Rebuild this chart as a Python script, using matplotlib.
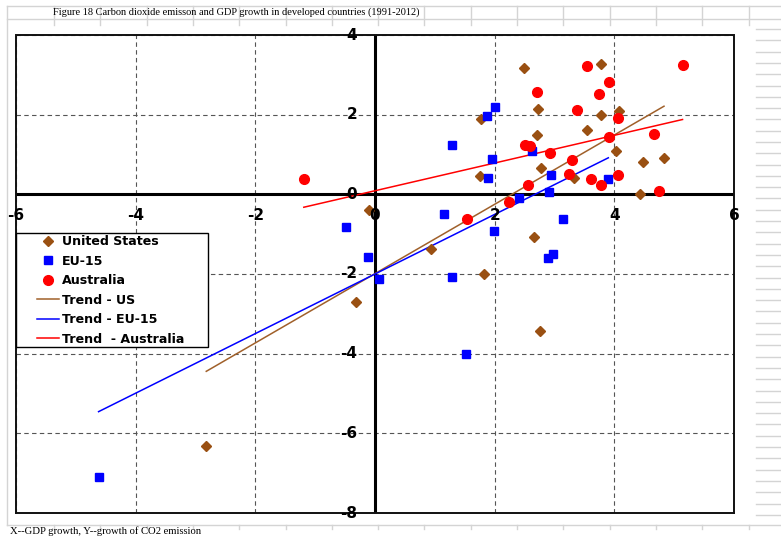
import matplotlib
matplotlib.use("Agg")
import matplotlib.pyplot as plt
import matplotlib.transforms as mtransforms
from matplotlib.lines import Line2D
from matplotlib.patches import Rectangle
import numpy as np

# data
us_x = [2.49, 3.78, 2.72, 1.77, 3.78, 4.07, 3.54, 2.71, 4.02, 4.48, 4.83,
        2.78, 1.76, 3.33, 4.43, 0.94, 2.66, 1.82, 2.75, -0.10, -0.31, -2.82]
us_y = [3.18, 3.26, 2.13, 1.90, 1.98, 2.08, 1.62, 1.48, 1.09, 0.80, 0.90,
        0.65, 0.45, 0.42, 0.02, -1.37, -1.07, -2.01, -3.42, -0.40, -2.71, -6.31]

eu_x = [2.00, 1.87, 1.29, 2.63, 1.96, 1.89, 2.94, 3.90, 2.41, 2.91,
        1.15, 3.14, 1.99, 2.97, 2.89, 1.29, -0.48, -0.12, 0.07, 1.52, -4.62]
eu_y = [2.19, 1.97, 1.25, 1.09, 0.88, 0.42, 0.49, 0.38, -0.08, 0.05,
        -0.49, -0.61, -0.93, -1.49, -1.61, -2.07, -0.82, -1.57, -2.13, -4.00, -7.10]

au_x = [3.54, 5.14, 3.91, 2.70, 3.75, 3.37, 4.06, 3.91, 4.67, 2.50, 2.59,
        2.92, 3.29, 3.25, 3.61, 3.78, 4.06, 2.56, 4.75, 2.24, 1.53, -1.19]
au_y = [3.22, 3.25, 2.81, 2.56, 2.52, 2.12, 1.92, 1.45, 1.51, 1.24, 1.22,
        1.03, 0.85, 0.52, 0.39, 0.24, 0.49, 0.24, 0.09, -0.18, -0.63, 0.38]

# trend lines (slope, intercept) as drawn in the chart
trend_us = (0.87, -1.99)
trend_eu = (0.748, -2.00)
trend_au = (0.348, 0.09)

x_ticks = [-6, -4, -2, 0, 2, 4, 6]
y_ticks = [-8, -6, -4, -2, 0, 2, 4]

title = "Figure 18 Carbon dioxide emisson and GDP growth in developed countries (1991-2012)"
note = "X--GDP growth, Y--growth of CO2 emission"

W, H = 781, 538
fig = plt.figure(figsize=(W / 100, H / 100), dpi=100)


def px(x0, y0, x1, y1, **kw):
    # spreadsheet cell lines, given in pixel coords from the top left
    fig.add_artist(Line2D([x0 / W, x1 / W], [1 - y0 / H, 1 - y1 / H],
                          transform=fig.transFigure, color="#d4d4d4", lw=1, **kw))


# spreadsheet background
px(7, 6, W, 6)
px(7, 19, W, 19)
px(7, 6, 7, 525)
px(7, 525, W, 525)
for xc in np.arange(54, 760, 46.3):
    px(xc, 6, xc, 25)
    px(xc, 525, xc, 529)
for yc in np.arange(29, 524, 11.3):
    px(756, yc, W, yc)

fig.text(53 / W, 1 - 12.5 / H, title, family="Liberation Serif", fontsize=7.5,
         va="center", ha="left")
fig.text(10 / W, 1 - 531.5 / H, note, family="Liberation Serif", fontsize=7.7,
         va="center", ha="left")

ax = fig.add_axes([16 / W, 1 - 513 / H, 718 / W, 478 / H])
ax.set_xlim(-6, 6)
ax.set_ylim(-8, 4)
ax.set_xticks(x_ticks)
ax.set_yticks(y_ticks)
ax.tick_params(length=0, labelbottom=False, labelleft=False)
ax.grid(True, color="#555555", lw=0.8, linestyle=(0, (4, 3)))
for s in ax.spines.values():
    s.set_linestyle((0, (2, 1)))
    s.set_linewidth(1.4)
    s.set_color("#111111")

ax.axhline(0, color="black", lw=2.2, zorder=2)
ax.axvline(0, color="black", lw=2.2, zorder=2)

brown = "#9a5012"
for (xs, (m, b), col) in [(us_x, trend_us, "#a0602a"),
                          (eu_x, trend_eu, "#0000ff"),
                          (au_x, trend_au, "#ff0000")]:
    xx = np.array([min(xs), max(xs)])
    ax.plot(xx, m * xx + b, color=col, lw=1.1, zorder=2.5)

ax.plot(us_x, us_y, ls="none", marker="D", ms=4.6, color=brown, zorder=3)
ax.plot(eu_x, eu_y, ls="none", marker="s", ms=6, color="#0000ff", zorder=3)
ax.plot(au_x, au_y, ls="none", marker="o", ms=7, color="#ff0000", zorder=3)

# tick labels sit next to the crossing axes
tx = mtransforms.offset_copy(ax.transData, fig=fig, x=0, y=-21, units="dots")
for v in x_ticks:
    ax.text(v, 0, str(v), transform=tx, ha="center", va="center",
            fontsize=11, fontweight="bold", clip_on=False, zorder=4)
ty = mtransforms.offset_copy(ax.transData, fig=fig, x=-18, y=0, units="dots")
for v in y_ticks:
    ax.text(0, v, str(v), transform=ty, ha="right", va="center",
            fontsize=11, fontweight="bold", clip_on=False, zorder=4)

# legend with a wider box drawn behind it
fig.add_artist(Rectangle((16 / W, 1 - 347 / H), 192 / W, 114 / H,
                         transform=fig.transFigure, facecolor="white",
                         edgecolor="black", lw=1.0, zorder=4))
handles = [
    Line2D([], [], ls="none", marker="D", ms=4.6, color=brown),
    Line2D([], [], ls="none", marker="s", ms=6, color="#0000ff"),
    Line2D([], [], ls="none", marker="o", ms=7, color="#ff0000"),
    Line2D([], [], color="#a0602a", lw=1.1),
    Line2D([], [], color="#0000ff", lw=1.1),
    Line2D([], [], color="#ff0000", lw=1.1),
]
labels = ["United States", "EU-15", "Australia", "Trend - US", "Trend - EU-15",
          "Trend  - Australia"]
fig.legend(handles, labels, loc="upper left",
           bbox_to_anchor=(37 / W, 1 - 235 / H), bbox_transform=fig.transFigure,
           borderaxespad=0, frameon=False,
           prop={"weight": "bold", "size": 9.1}, handlelength=1.75,
           handletextpad=0.2, borderpad=0, labelspacing=0.52)

fig.savefig("out.png", dpi=100)
